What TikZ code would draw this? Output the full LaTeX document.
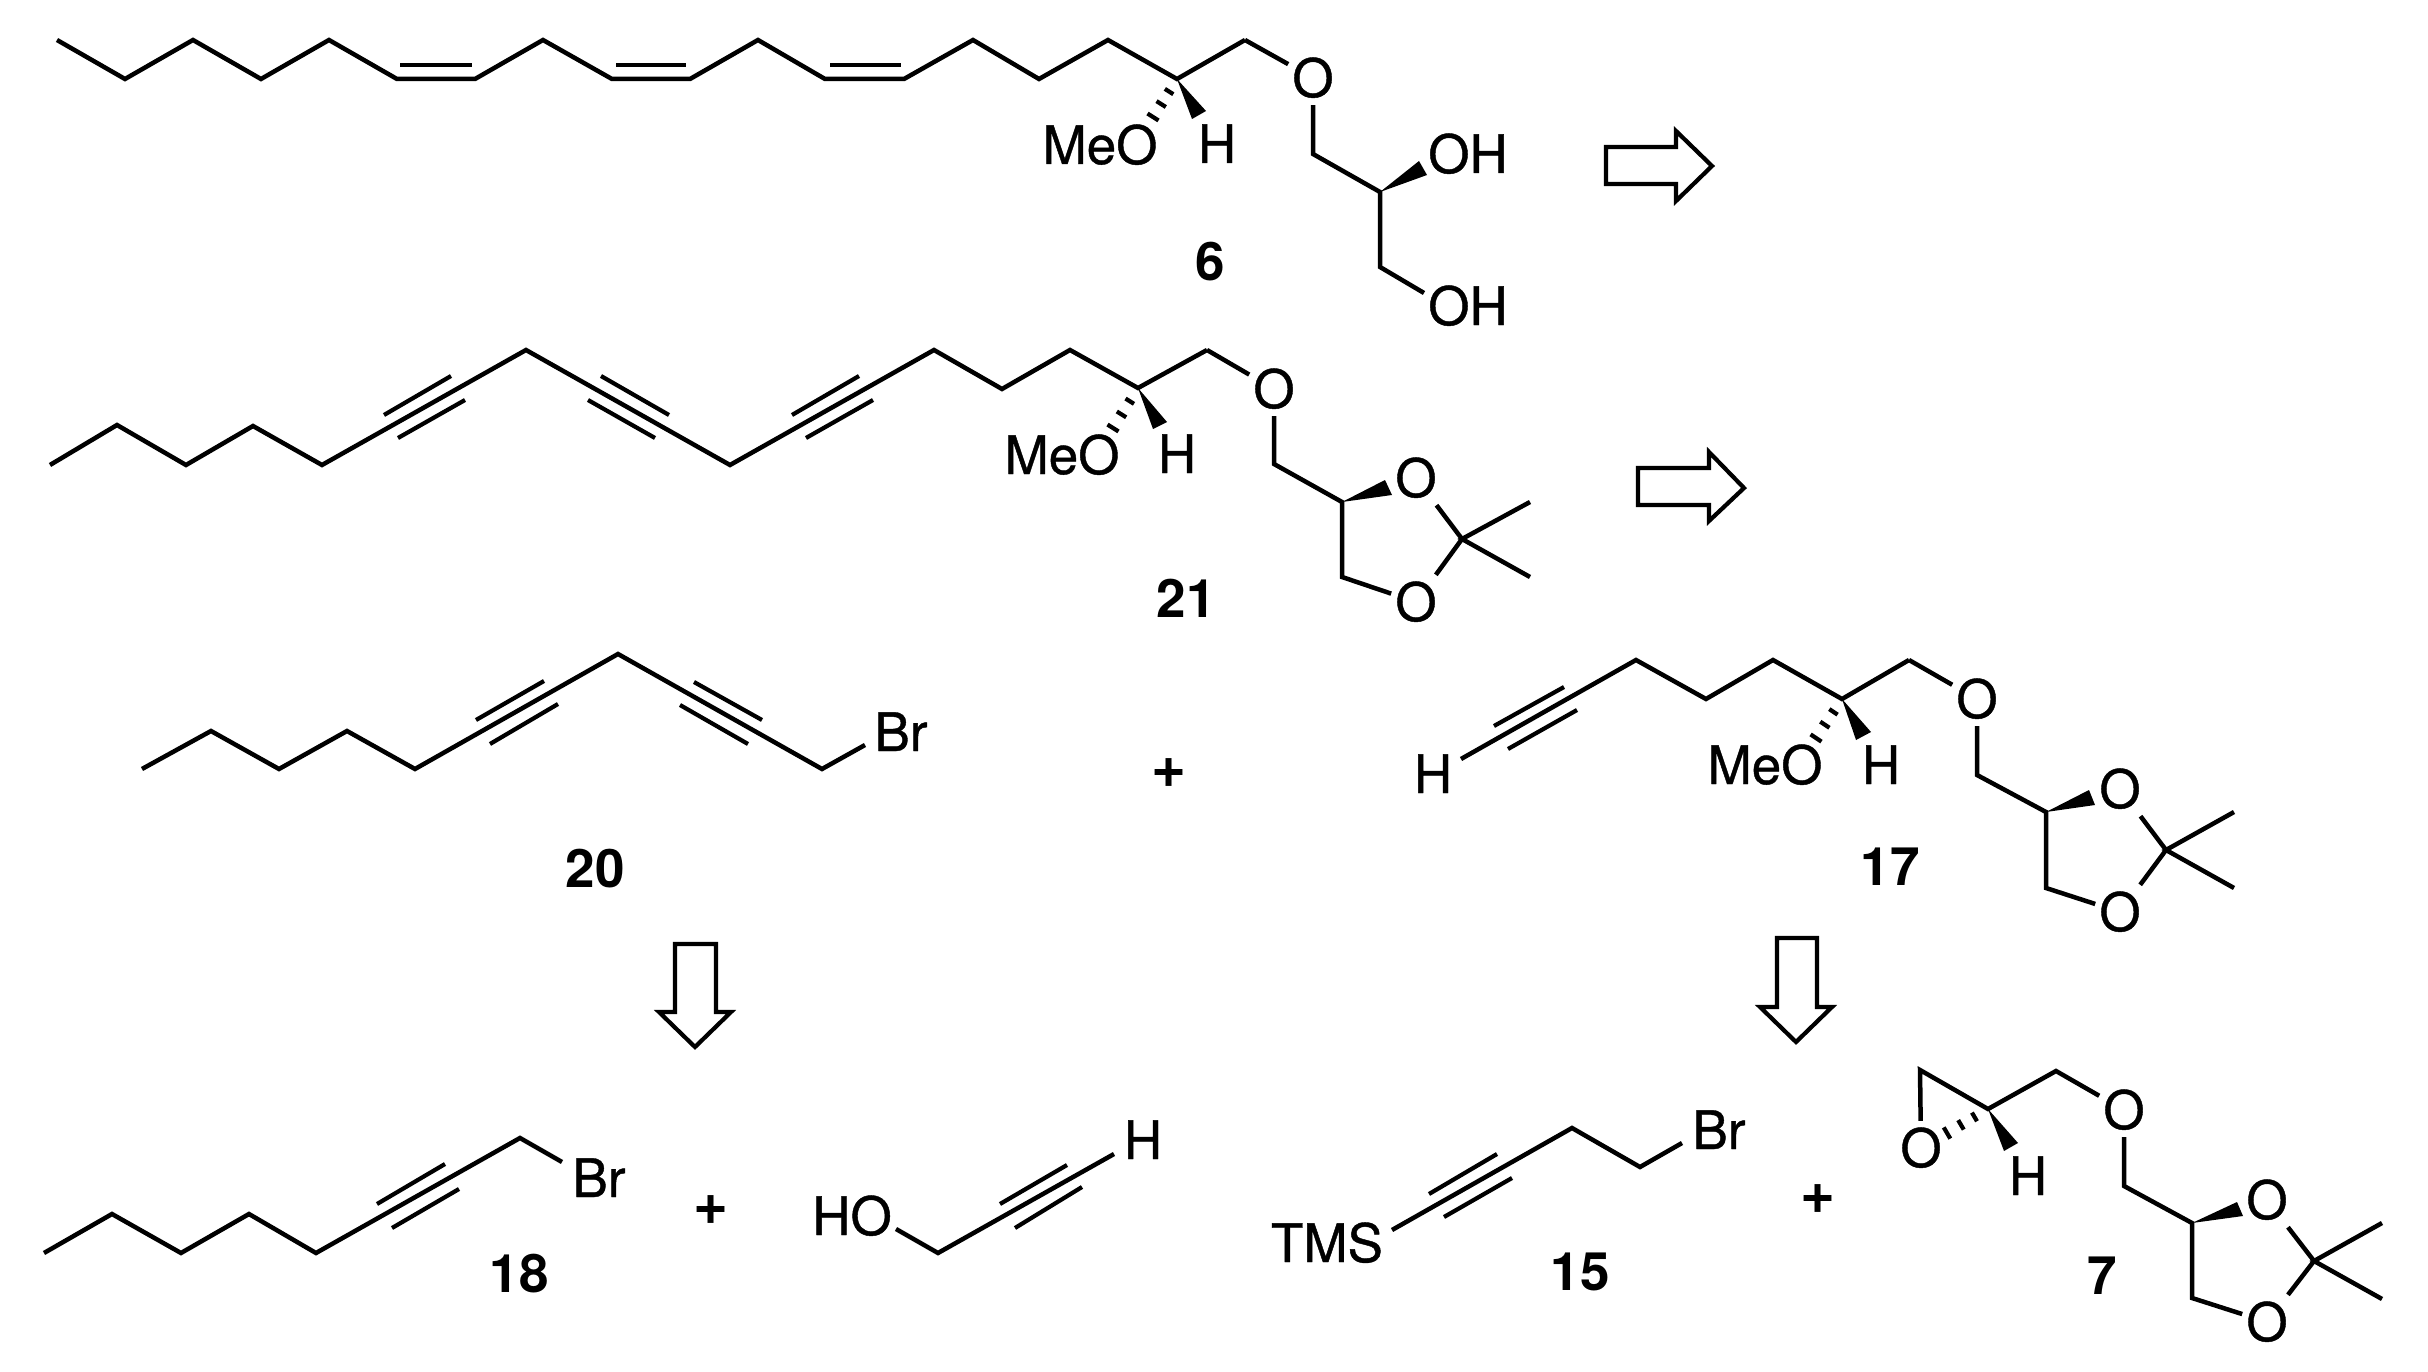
\documentclass[tikz,border=0pt]{standalone}
\usepackage{fontspec}
\setmainfont{TeX Gyre Heros}
\newfontfamily\atomfont[FakeBold=0.8]{TeX Gyre Heros}
\usetikzlibrary{calc}
\tikzset{
  bond/.style={line width=4.5pt,line join=miter,miter limit=10,line cap=butt},
  inner bond/.style={line width=4.2pt},
  blockarrow/.style={line width=4.2pt,line join=miter,miter limit=10},
  atom/.style={font=\fontsize{53}{60}\selectfont\atomfont,inner xsep=4pt,inner ysep=8pt,text height=38pt,text depth=0pt},
  cmpd/.style={font=\fontsize{53}{60}\selectfont\bfseries,inner sep=0pt,text height=38pt,text depth=0pt},
  plus/.style={font=\fontsize{60}{60}\selectfont\bfseries,inner sep=0pt}
}
% named vertices, numbered from 1
\newcommand\chpts[2]{\foreach \x/\y [count=\i] in {#2}{\coordinate (#1\i) at (\x,\y);}}
% path through vertices 1..n
\newcommand\chchain[2]{\draw[bond] (#11) \foreach \i in {2,...,#2}{ -- (#1\i)};}
% second line(s) of a multiple bond, between named ends
\newcommand\chextra[2]{\chpts{#1}{#2}\draw[inner bond] (#11)--(#12);}
\newcommand\chwedge[3]{\fill (#1)--(#2)--(#3)--cycle;}
\newcommand\chhashed[2]{\foreach \f/\w in {.33/5,.66/5.5,1/6.5}{\draw[inner bond] ($(#1)!\f!(#2)!\w pt!90:(#1)$)--($(#1)!\f!(#2)!\w pt!-90:(#1)$);}}
\newcommand\chblock[2]{\chpts{#1}{#2}\draw[blockarrow] (#11)--(#12)--(#13)--(#14)--(#15)--(#16)--(#17)--cycle;}
\begin{document}
\begin{tikzpicture}[x=1pt,y=-1pt]
\useasboundingbox (0,0) rectangle (2428,1372);

%% ---- 6 ----
\chpts{a}{57/40,125/79,193/40,261/79,329/40,397/79,475/79,543/40,612/79,690/79,758/40,825/79,904/79,973/40,1039/79,1108/40,1177/79,1245/40}
\chchain{a}{18}
\chextra{ad}{400/65,472/65}\chextra{ae}{616/65,686/65}\chextra{af}{830/65,901/65}
\node[atom] (o6) at (1313,78) {O};
\draw[bond] (a18)--(o6);
\chpts{b}{1313/154,1380/192,1380/267,1424/293}
\draw[bond] (o6)--(b1)--(b2)--(b3)--(b4);
\node[atom,inner sep=0pt] (meo6) at (1100,145) {MeO};
\node[atom,inner sep=0pt] (h6) at (1217,144) {H};
\node[atom,inner sep=0pt] (oh6a) at (1468,154) {OH};
\node[atom,inner sep=0pt] (oh6b) at (1468,306) {OH};
\chpts{w}{1206/111,1192/119,1419/161,1427/175,1153/117}
\chwedge{a17}{w1}{w2}
\chwedge{b2}{w3}{w4}
\chhashed{a17}{w5}
\node[cmpd] (n6) at (1210,262) {6};
\chblock{ar}{1606/147,1676/147,1676/131,1712/166,1676/201,1676/184,1606/184}

%% ---- 21 ----
\chpts{c}{50/465,117/425,186/465,253/426,322/465,526/350,730/465,934/350,1002/389,1070/350,1138/388,1207/350}
\chchain{c}{12}
\chextra{ca}{384/415,451/376}\chextra{cb}{398/438,465/400}
\chextra{cc}{601/376,669/415}\chextra{cd}{588/400,655/438}
\chextra{ce}{792/415,859/376}\chextra{cf}{806/438,873/400}
\node[atom] (o21) at (1274,389) {O};
\node[atom] (o21u) at (1416,478) {O};
\node[atom] (o21l) at (1416,602) {O};
\chpts{d}{1274/464,1342/502,1342/577,1462/539,1530/502,1530/577}
\draw[bond] (c12)--(o21);
\draw[bond] (o21)--(d1)--(d2)--(d3)--(o21l);
\draw[bond] (o21u)--(d4)--(o21l);
\draw[bond] (d5)--(d4)--(d6);
\node[atom,inner sep=0pt] (meo21) at (1062,455) {MeO};
\node[atom,inner sep=0pt] (h21) at (1177,454) {H};
\chpts{x}{1167/422,1153/429,1385/480,1392/495,1113/428}
\chwedge{c11}{x1}{x2}
\chwedge{d2}{x3}{x4}
\chhashed{c11}{x5}
\node[cmpd] (n21) at (1186,598) {21};
\chblock{as}{1638/468,1709/468,1709/452,1744/488,1709/521,1709/505,1638/505}

%% ---- 20 ----
\chpts{e}{142/769,211/731,279/769,347/731,415/769,618/654,822/769,865/745}
\chchain{e}{8}
\chextra{ea}{476/720,544/681}\chextra{eb}{490/744,558/704}
\chextra{ec}{694/682,762/720}\chextra{ed}{680/705,748/744}
\node[atom,inner sep=0pt] (br20) at (901,732) {Br};
\node[cmpd] (n20) at (595,868) {20};
\node[plus] (p1) at (1169,773) {+};

%% ---- 17 ----
\chpts{f}{1461/759,1636/660,1706/699,1773/660,1842/699,1909/660}
\chchain{f}{6}
\chextra{fa}{1494/726,1564/687}\chextra{fb}{1508/749,1577/710}
\node[atom,inner sep=0pt] (h17a) at (1433,774) {H};
\node[atom] (o17) at (1977,699) {O};
\node[atom] (o17u) at (2120,789) {O};
\node[atom] (o17l) at (2120,912) {O};
\chpts{g}{1977/775,2046/812,2046/888,2166/850,2234/812,2234/888}
\draw[bond] (f6)--(o17);
\draw[bond] (o17)--(g1)--(g2)--(g3)--(o17l);
\draw[bond] (o17u)--(g4)--(o17l);
\draw[bond] (g5)--(g4)--(g6);
\node[atom,inner sep=0pt] (meo17) at (1765,765) {MeO};
\node[atom,inner sep=0pt] (h17) at (1881,765) {H};
\chpts{y}{1871/732,1856/740,2089/790,2095/805,1816/738}
\chwedge{f5}{y1}{y2}
\chwedge{g2}{y3}{y4}
\chhashed{f5}{y5}
\node[cmpd] (n17) at (1890,866) {17};

%% ---- arrows down ----
\chblock{at}{675/944,716/944,716/1012,731/1012,695/1047,659/1012,675/1012}
\chblock{au}{1777/938,1817/938,1817/1007,1832/1007,1796/1042,1760/1007,1777/1007}

%% ---- 18 ----
\chpts{h}{44/1253,112/1214,181/1253,249/1214,316/1253,520/1138,562/1162}
\chchain{h}{7}
\chextra{ha}{377/1204,445/1164}\chextra{hb}{392/1228,459/1189}
\node[atom,inner sep=0pt] (br18) at (599,1178) {Br};
\node[cmpd] (n18) at (519,1273) {18};
\node[plus] (p2) at (711,1210) {+};

%% ---- propargyl alcohol ----
\chpts{k}{896/1229,938/1253,1114/1154}
\chchain{k}{3}
\chextra{ka}{1000/1204,1067/1165}\chextra{kb}{1015/1228,1082/1187}
\node[atom,inner sep=0pt] (ho) at (852,1216) {HO};
\node[atom,inner sep=0pt] (hk) at (1143,1140) {H};

%% ---- 15 ----
\chpts{m}{1392/1230,1572/1128,1640/1167,1682/1143}
\chchain{m}{4}
\chextra{ma}{1429/1194,1497/1154}\chextra{mb}{1444/1217,1512/1178}
\node[atom,inner sep=0pt] (tms) at (1327,1243) {TMS};
\node[atom,inner sep=0pt] (br15) at (1719,1130) {Br};
\node[cmpd] (n15) at (1580,1271) {15};
\node[plus] (p3) at (1818,1199) {+};

%% ---- 7 ----
\node[atom] (oe) at (1921,1148) {O};
\node[atom] (o7) at (2124,1110) {O};
\node[atom] (o7u) at (2267,1200) {O};
\node[atom] (o7l) at (2267,1322) {O};
\chpts{q}{1920/1070,1988/1109,2056/1071,2124/1186,2192/1223,2192/1298,2314/1261,2382/1223,2382/1299}
\draw[bond] (oe)--(q1)--(q2)--(q3)--(o7);
\draw[bond] (o7)--(q4)--(q5)--(q6)--(o7l);
\draw[bond] (o7u)--(q7)--(o7l);
\draw[bond] (q8)--(q7)--(q9);
\node[atom,inner sep=0pt] (h7) at (2028,1176) {H};
\chpts{z}{2018/1143,2004/1151,2237/1202,2243/1216,1947/1133}
\chwedge{q2}{z1}{z2}
\chwedge{q5}{z3}{z4}
\chhashed{q2}{z5}
\node[cmpd] (n7) at (2102,1275) {7};
\end{tikzpicture}
\end{document}
